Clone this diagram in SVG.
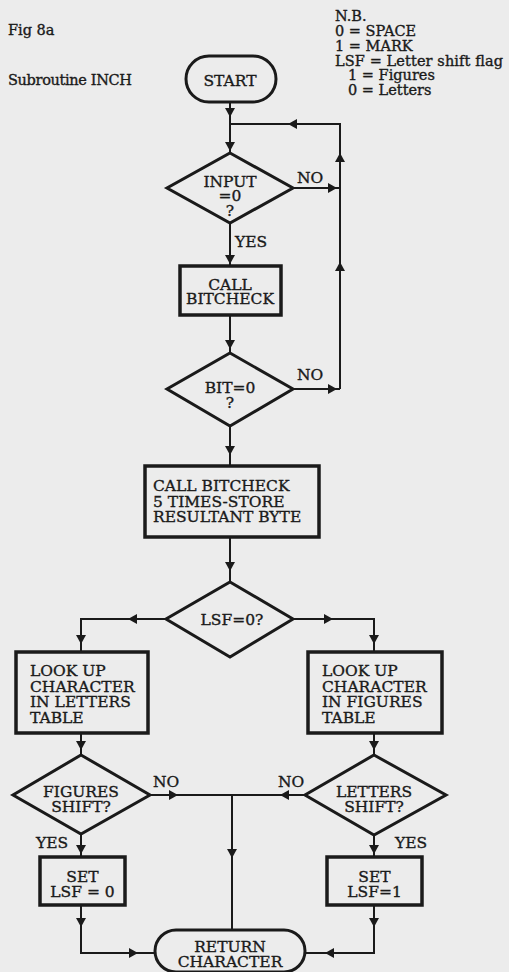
<svg xmlns="http://www.w3.org/2000/svg" xmlns:xlink="http://www.w3.org/1999/xlink" width="509" height="972" viewBox="0 0 509 972">
<style>
text{font-family:"DejaVu Serif","Liberation Serif",serif;font-size:15.5px;fill:#1a1a1a;stroke:#1a1a1a;stroke-width:0.35px}
.c{text-anchor:middle}
.s{font-size:14.5px}
.box{fill:none;stroke:#1a1a1a;stroke-width:3.5}
.dia{fill:none;stroke:#1a1a1a;stroke-width:3;stroke-linejoin:miter}
.term{fill:none;stroke:#1a1a1a;stroke-width:3}
.ln{fill:none;stroke:#1a1a1a;stroke-width:2}
.ah{fill:#1a1a1a}
</style>
<defs>
<path id="ah" d="M0,0 L-9,-5 L-9,5 Z"/>
</defs>
<rect x="0" y="0" width="509" height="972" fill="#ececec"/>
<g id="header">
<text class="s" x="8" y="35">Fig 8a</text>
<text class="s" x="8" y="85" textLength="124">Subroutine INCH</text>
<text class="s" x="335" y="21">N.B.</text>
<text class="s" x="335" y="36">0 = SPACE</text>
<text class="s" x="335" y="51">1 = MARK</text>
<text class="s" x="335" y="65.5" textLength="168">LSF = Letter shift flag</text>
<text class="s" x="348" y="80">1 = Figures</text>
<text class="s" x="348" y="95">0 = Letters</text>
</g>
<g id="connectors">
<path class="ln" d="M230,102 V153"/>
<path class="ln" d="M293,188 H340 V124 H230"/>
<path class="ln" d="M293,389 H340"/>
<path class="ln" d="M340,389 V188"/>
<path class="ln" d="M230,223 V266"/>
<path class="ln" d="M230,315 V353"/>
<path class="ln" d="M230,426 V466"/>
<path class="ln" d="M230,537 V582"/>
<path class="ln" d="M166,619 H81 V652"/>
<path class="ln" d="M293,619 H374 V652"/>
<path class="ln" d="M81,733 V755"/>
<path class="ln" d="M374,733 V755"/>
<path class="ln" d="M150,795 H305"/>
<path class="ln" d="M232,795 V930"/>
<path class="ln" d="M81,834 V857"/>
<path class="ln" d="M374,835 V857"/>
<path class="ln" d="M81,905 V953 H155"/>
<path class="ln" d="M374,905 V953 H305"/>
<g class="ah">
<use xlink:href="#ah" transform="translate(230,117) rotate(90)"/>
<use xlink:href="#ah" transform="translate(230,151) rotate(90)"/>
<use xlink:href="#ah" transform="translate(337,188)"/>
<use xlink:href="#ah" transform="translate(340,153) rotate(-90)"/>
<use xlink:href="#ah" transform="translate(340,262) rotate(-90)"/>
<use xlink:href="#ah" transform="translate(288,124) rotate(180)"/>
<use xlink:href="#ah" transform="translate(337,389)"/>
<use xlink:href="#ah" transform="translate(230,264) rotate(90)"/>
<use xlink:href="#ah" transform="translate(230,349) rotate(90)"/>
<use xlink:href="#ah" transform="translate(230,455) rotate(90)"/>
<use xlink:href="#ah" transform="translate(230,571) rotate(90)"/>
<use xlink:href="#ah" transform="translate(128,619) rotate(180)"/>
<use xlink:href="#ah" transform="translate(333,619)"/>
<use xlink:href="#ah" transform="translate(81,644) rotate(90)"/>
<use xlink:href="#ah" transform="translate(374,644) rotate(90)"/>
<use xlink:href="#ah" transform="translate(81,750) rotate(90)"/>
<use xlink:href="#ah" transform="translate(374,750) rotate(90)"/>
<use xlink:href="#ah" transform="translate(178,795)"/>
<use xlink:href="#ah" transform="translate(280,795) rotate(180)"/>
<use xlink:href="#ah" transform="translate(232,858) rotate(90)"/>
<use xlink:href="#ah" transform="translate(81,854) rotate(90)"/>
<use xlink:href="#ah" transform="translate(374,854) rotate(90)"/>
<use xlink:href="#ah" transform="translate(81,927) rotate(90)"/>
<use xlink:href="#ah" transform="translate(374,927) rotate(90)"/>
<use xlink:href="#ah" transform="translate(138,953)"/>
<use xlink:href="#ah" transform="translate(325,953) rotate(180)"/>
</g>
<text x="297" y="183">NO</text>
<text x="235" y="247">YES</text>
<text x="297" y="380">NO</text>
<text x="153" y="787">NO</text>
<text x="278" y="787">NO</text>
<text x="36" y="848">YES</text>
<text x="395" y="848">YES</text>
</g>
<g id="start">
<rect class="term" x="186" y="56" width="90" height="46" rx="23"/>
<text class="c" x="230" y="86">START</text>
</g>
<g id="input">
<path class="dia" d="M230,153 L293,188 L230,223 L167,188 Z"/>
<text class="c" x="230" y="187">INPUT</text>
<text class="c" x="230" y="201">=0</text>
<text class="c" x="230" y="216">?</text>
</g>
<g id="callbitcheck">
<rect class="box" x="180" y="266" width="101" height="49"/>
<text class="c" x="230" y="290">CALL</text>
<text class="c" x="230" y="304">BITCHECK</text>
</g>
<g id="bit">
<path class="dia" d="M230,353 L293,389 L230,426 L167,389 Z"/>
<text class="c" x="230" y="393">BIT=0</text>
<text class="c" x="230" y="408">?</text>
</g>
<g id="store">
<rect class="box" x="145" y="466" width="174" height="71"/>
<text x="153" y="491">CALL BITCHECK</text>
<text x="153" y="507">5 TIMES-STORE</text>
<text x="153" y="522">RESULTANT BYTE</text>
</g>
<g id="lsf">
<path class="dia" d="M230,582 L293,619 L230,657 L166,619 Z"/>
<text class="c" x="232" y="625">LSF=0?</text>
</g>
<g id="lookletters">
<rect class="box" x="16" y="652" width="132" height="81"/>
<text x="30" y="676">LOOK UP</text>
<text x="30" y="691.5">CHARACTER</text>
<text x="30" y="707">IN LETTERS</text>
<text x="30" y="722.5">TABLE</text>
</g>
<g id="lookfigures">
<rect class="box" x="308" y="652" width="134" height="81"/>
<text x="322" y="676">LOOK UP</text>
<text x="322" y="691.5">CHARACTER</text>
<text x="322" y="707">IN FIGURES</text>
<text x="322" y="722.5">TABLE</text>
</g>
<g id="figshift">
<path class="dia" d="M81,755 L150,795 L81,834 L13,795 Z"/>
<text class="c" x="81" y="797">FIGURES</text>
<text class="c" x="81" y="812">SHIFT?</text>
</g>
<g id="letshift">
<path class="dia" d="M374,755 L446,795 L374,835 L305,795 Z"/>
<text class="c" x="374" y="797">LETTERS</text>
<text class="c" x="374" y="812">SHIFT?</text>
</g>
<g id="setlsf0">
<rect class="box" x="40" y="857" width="85" height="48"/>
<text class="c" x="82.5" y="882">SET</text>
<text class="c" x="82.5" y="897">LSF = 0</text>
</g>
<g id="setlsf1">
<rect class="box" x="327" y="857" width="95" height="48"/>
<text class="c" x="374.5" y="882">SET</text>
<text class="c" x="374.5" y="897">LSF=1</text>
</g>
<g id="return">
<rect class="term" x="155" y="930" width="150" height="42" rx="21"/>
<text class="c" x="230" y="952">RETURN</text>
<text class="c" x="230" y="967">CHARACTER</text>
</g>
</svg>
